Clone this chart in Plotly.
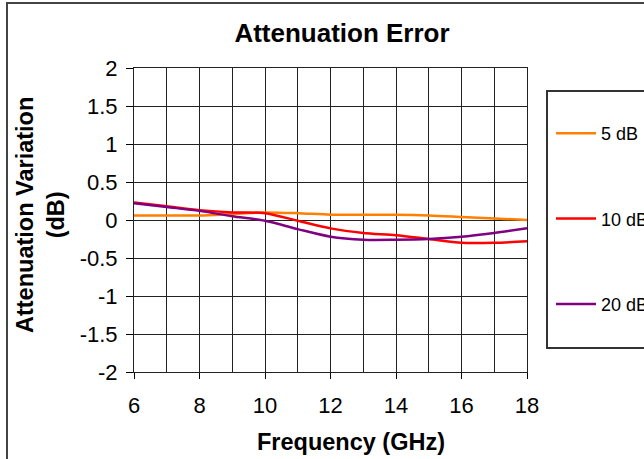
import plotly.graph_objects as go

freq = [6, 7, 8, 9, 10, 11, 12, 13, 14, 15, 16, 17, 18]
err_5db = [0.06, 0.06, 0.06, 0.08, 0.10, 0.09, 0.07, 0.07, 0.07, 0.06, 0.04, 0.02, 0.0]
err_10db = [0.23, 0.18, 0.13, 0.10, 0.09, -0.01, -0.11, -0.17, -0.20, -0.25, -0.30, -0.30, -0.28]
err_20db = [0.22, 0.17, 0.12, 0.05, -0.01, -0.12, -0.22, -0.26, -0.26, -0.25, -0.22, -0.17, -0.11]
names = ["5 dB", "10 dB", "20 dB"]
colors = ["#FF7F00", "#FF0000", "#800080"]
y_ticks = [2, 1.5, 1, 0.5, 0, -0.5, -1, -1.5, -2]
y_tick_text = ["2", "1.5", "1", "0.5", "0", "-0.5", "-1", "-1.5", "-2"]

W, H = 644, 459
L, R, T, B = 134, 527, 68, 372

def px(x):
    return (x - L) / (R - L)

def py(y):
    return (B - y) / (B - T)

fig = go.Figure()
for i, (name, ys) in enumerate(zip(names, [err_5db, err_10db, err_20db])):
    fig.add_trace(go.Scatter(x=freq, y=ys, name=name, mode="lines",
                             line=dict(color=colors[i], width=2.5, shape="spline", smoothing=0.8),
                             legendgroup=name))

FONT = "Liberation Sans, Arial, sans-serif"
axis_font = dict(family=FONT, size=22, color="black")
fig.update_layout(
    width=W, height=H,
    margin=dict(l=L, r=W - R, t=T, b=H - B, autoexpand=False),
    paper_bgcolor="white", plot_bgcolor="white",
    font=dict(family=FONT, color="black"),
    title=dict(text="<b>Attenuation Error</b>", x=342 / W, xanchor="center",
               y=1 - 33 / H, yanchor="middle", yref="container",
               font=dict(size=26, color="black")),
    xaxis=dict(range=[6, 18], dtick=2, tick0=6, showgrid=True, gridcolor="#222", gridwidth=1,
               minor=dict(dtick=1, showgrid=True, gridcolor="#222", gridwidth=1),
               ticks="outside", ticklen=6, tickcolor="black",
               showline=True, linecolor="#222", mirror=True, zeroline=False,
               tickfont=axis_font, ticklabelstandoff=8, automargin=False),
    yaxis=dict(range=[-2, 2], tickvals=y_ticks, ticktext=y_tick_text,
               showgrid=True, gridcolor="#222", gridwidth=1,
               ticks="outside", ticklen=7, tickcolor="black",
               showline=True, linecolor="#222", mirror=True, zeroline=True,
               zerolinecolor="#222", zerolinewidth=1,
               tickfont=axis_font, ticklabelstandoff=4, automargin=False),
    legend=dict(x=px(551), y=py(115), xanchor="left", yanchor="top",
                bgcolor="rgba(0,0,0,0)", borderwidth=0,
                font=dict(size=18, color="black"), tracegroupgap=59,
                itemwidth=40),
    showlegend=True,
    annotations=[
        dict(text="<b>Frequency (GHz)</b>", xref="paper", yref="paper",
             x=px(351), y=py(442), xanchor="center", yanchor="middle",
             showarrow=False, font=dict(size=23.5, color="black")),
        dict(text="<b>Attenuation Variation<br>(dB)</b>", xref="paper", yref="paper",
             x=px(40), y=py(215), xanchor="center", yanchor="middle", textangle=-90,
             showarrow=False, font=dict(size=23.5, color="black")),
    ],
    shapes=[
        dict(type="rect", xref="paper", yref="paper",
             x0=px(7), x1=px(700), y0=py(520), y1=py(3),
             line=dict(color="#444", width=2), fillcolor="rgba(0,0,0,0)", layer="below"),
        dict(type="rect", xref="paper", yref="paper",
             x0=px(547), x1=px(700), y0=py(348), y1=py(91),
             line=dict(color="#333", width=2), fillcolor="rgba(0,0,0,0)"),
    ],
)

fig.write_html("out.html", config={"displayModeBar": False},
               post_script="document.body.style.margin='0';")
